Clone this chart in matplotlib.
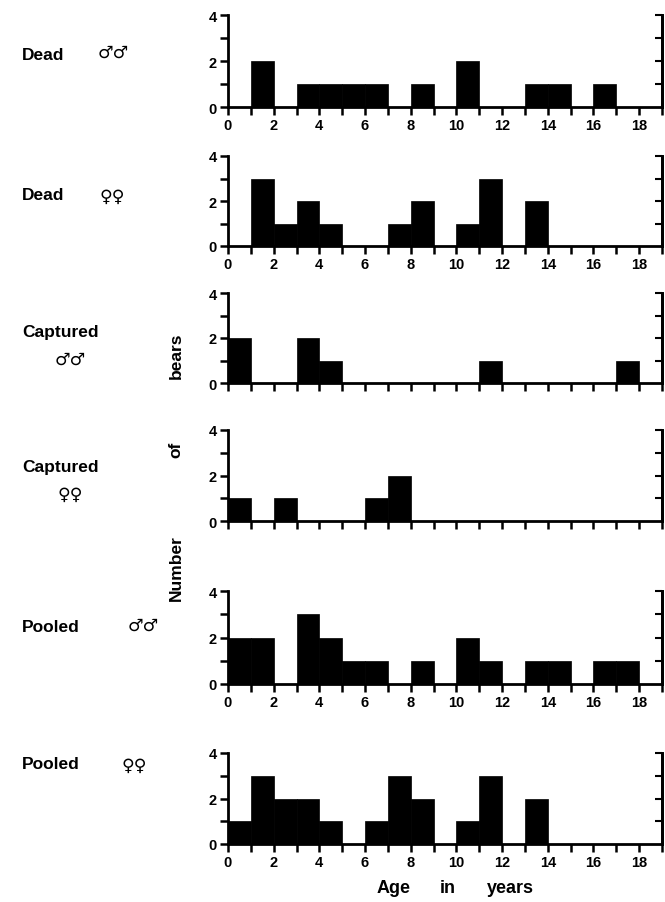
import matplotlib
matplotlib.use("Agg")
import matplotlib.pyplot as plt
import numpy as np

plt.rcParams['font.family'] = ['Liberation Sans', 'DejaVu Sans']
plt.rcParams['font.weight'] = 'bold'

# Age classes (years, bin left edges 0..18)
ages = list(range(19))

dead_males      = [0, 2, 0, 1, 1, 1, 1, 0, 1, 0, 2, 0, 0, 1, 1, 0, 1, 0, 0]
dead_females    = [0, 3, 1, 2, 1, 0, 0, 1, 2, 0, 1, 3, 0, 2, 0, 0, 0, 0, 0]
captured_males  = [2, 0, 0, 2, 1, 0, 0, 0, 0, 0, 0, 1, 0, 0, 0, 0, 0, 1, 0]
captured_females= [1, 0, 1, 0, 0, 0, 1, 2, 0, 0, 0, 0, 0, 0, 0, 0, 0, 0, 0]
pooled_males    = [2, 2, 0, 3, 2, 1, 1, 0, 1, 0, 2, 1, 0, 1, 1, 0, 1, 1, 0]
pooled_females  = [1, 3, 2, 2, 1, 0, 1, 3, 2, 0, 1, 3, 0, 2, 0, 0, 0, 0, 0]

series = [dead_males, dead_females, captured_males, captured_females,
          pooled_males, pooled_females]
group_names = ["Dead", "Dead", "Captured", "Captured", "Pooled", "Pooled"]
sex_symbols = ["\u2642\u2642", "\u2640\u2640", "\u2642\u2642", "\u2640\u2640",
               "\u2642\u2642", "\u2640\u2640"]
show_xlabels = [True, True, False, False, True, True]

x_ticks = list(range(20))
x_ticklabels = [str(t) if t % 2 == 0 and t < 19 else "" for t in x_ticks]

W, H = 665, 903
fig = plt.figure(figsize=(W / 100, H / 100), dpi=100)

# pixel layout: (y of value 0, y of value 4)
panel_px = [(108, 16), (247, 157), (384, 294), (522, 431), (685, 592), (845, 754)]
x0_px, x19_px = 228, 662

label_pos = [  # (name x, name y, sym x, sym y)
    (22, 55, 98, 53),
    (22, 195, 100, 197),
    (22, 332, 55, 360),
    (22, 468, 58, 495),
    (22, 628, 128, 626),
    (22, 765, 122, 766),
]

for i, vals in enumerate(series):
    y0, y4 = panel_px[i]
    ax = fig.add_axes([x0_px / W, 1 - y0 / H, (x19_px - x0_px) / W, (y0 - y4) / H])
    ax.bar(ages, vals, width=1.0, align='edge', color='black', edgecolor='black', linewidth=0.5)
    ax.set_xlim(0, 19)
    ax.set_ylim(0, 4)
    ax.spines['top'].set_visible(False)
    for s in ['left', 'bottom', 'right']:
        ax.spines[s].set_linewidth(2)
    ax.set_xticks(x_ticks)
    ax.set_xticklabels(x_ticklabels if show_xlabels[i] else [])
    ax.set_yticks([0, 1, 2, 3, 4])
    ax.set_yticklabels(["0", "", "2", "", "4"])
    ax.tick_params(axis='x', direction='out', length=6, width=1.8, labelsize=10.5, pad=2)
    ax.tick_params(axis='y', direction='out', length=6, width=1.8, labelsize=10.5, pad=2)
    for lab in ax.get_xticklabels() + ax.get_yticklabels():
        lab.set_fontweight('bold')
    ax2 = ax.twinx()
    ax2.set_ylim(0, 4)
    ax2.set_yticks([1, 2, 3, 4])
    ax2.set_yticklabels([])
    ax2.tick_params(axis='y', direction='in', length=5, width=1.5)
    for s in ['top', 'left', 'bottom']:
        ax2.spines[s].set_visible(False)
    ax2.spines['right'].set_linewidth(2)

    nx, ny, sx, sy = label_pos[i]
    fig.text(nx / W, 1 - ny / H, group_names[i], fontsize=12.5, fontweight='bold',
             ha='left', va='center')
    fig.text(sx / W, 1 - sy / H, sex_symbols[i], fontsize=12.5, fontweight='bold',
             ha='left', va='center', family=['DejaVu Sans'])

# y-axis label words
for word, yc in [("bears", 356), ("of", 450), ("Number", 568)]:
    fig.text(176 / W, 1 - yc / H, word, rotation=90, fontsize=12.5, fontweight='bold',
             ha='center', va='center')

# x-axis label words
for word, xc in [("Age", 394), ("in", 448), ("years", 510)]:
    fig.text(xc / W, 1 - 889 / H, word, fontsize=13, fontweight='bold',
             ha='center', va='center')

fig.savefig("out.png", dpi=100)
